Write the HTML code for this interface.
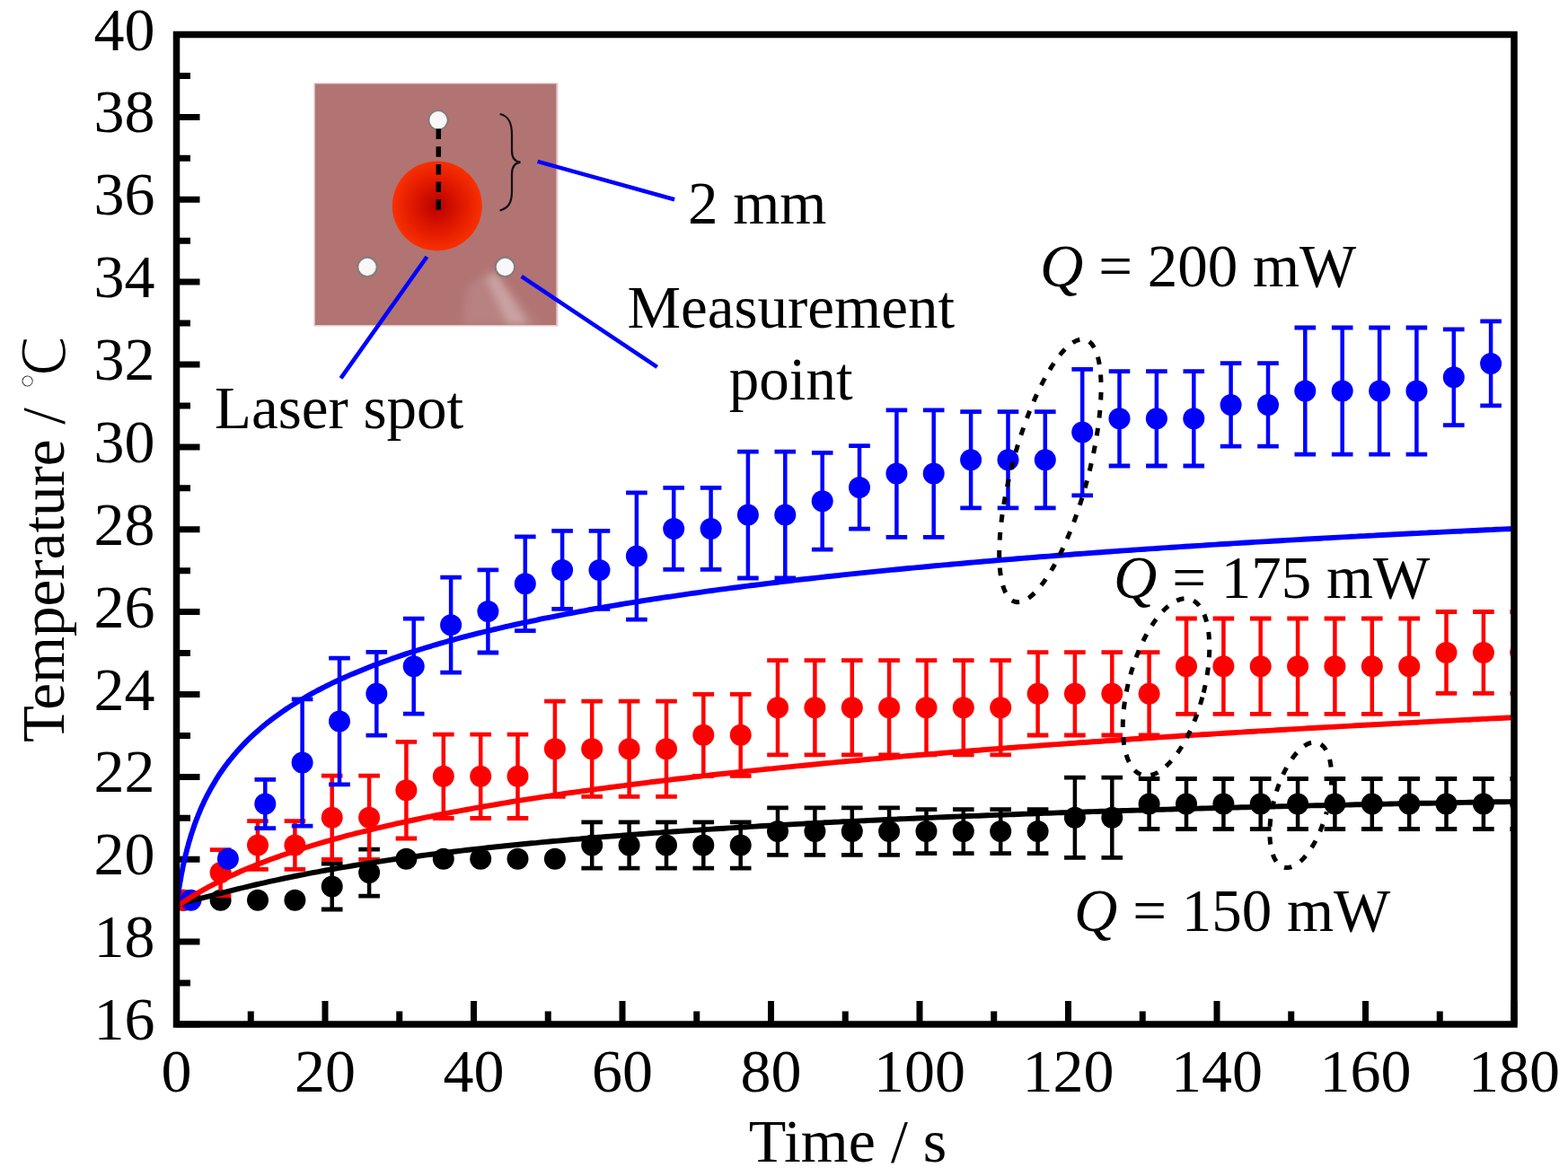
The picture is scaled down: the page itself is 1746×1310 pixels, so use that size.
<!DOCTYPE html><html><head><meta charset="utf-8"><style>html,body{margin:0;padding:0;background:#fff;overflow:hidden}svg{display:block}.t{font-family:"Liberation Serif","Times New Roman",serif;fill:#000}</style></head><body><svg width="1746" height="1310" viewBox="0 0 1746 1310"><defs><radialGradient id="spot" cx="0.5" cy="0.5" r="0.5"><stop offset="0" stop-color="#b80000"/><stop offset="0.55" stop-color="#e01800"/><stop offset="1" stop-color="#f83000"/></radialGradient><filter id="blur4" x="-20%" y="-20%" width="140%" height="140%"><feGaussianBlur stdDeviation="4"/></filter><clipPath id="ic"><rect x="350.6" y="93.3" width="269" height="268.7"/></clipPath><clipPath id="pc"><rect x="196.5" y="38.5" width="1489.5" height="1102.5"/></clipPath></defs><rect width="1746" height="1310" fill="#fff"/><path d="M196.5 1141.00h26M196.5 1095.06h15.5M196.5 1049.12h26M196.5 1003.19h15.5M196.5 957.25h26M196.5 911.31h15.5M196.5 865.38h26M196.5 819.44h15.5M196.5 773.50h26M196.5 727.56h15.5M196.5 681.62h26M196.5 635.69h15.5M196.5 589.75h26M196.5 543.81h15.5M196.5 497.88h26M196.5 451.94h15.5M196.5 406.00h26M196.5 360.06h15.5M196.5 314.12h26M196.5 268.19h15.5M196.5 222.25h26M196.5 176.31h15.5M196.5 130.38h26M196.5 84.44h15.5M196.5 38.50h26M196.50 1141v-26M279.25 1141v-14.5M362.00 1141v-26M444.75 1141v-14.5M527.50 1141v-26M610.25 1141v-14.5M693.00 1141v-26M775.75 1141v-14.5M858.50 1141v-26M941.25 1141v-14.5M1024.00 1141v-26M1106.75 1141v-14.5M1189.50 1141v-26M1272.25 1141v-14.5M1355.00 1141v-26M1437.75 1141v-14.5M1520.50 1141v-26M1603.25 1141v-14.5M1686.00 1141v-26" stroke="#000" stroke-width="7"/><g clip-path="url(#pc)"><circle cx="204.3" cy="1002.8" r="12" fill="#000"/><circle cx="245.6" cy="1002.8" r="12" fill="#000"/><circle cx="287.0" cy="1002.8" r="12" fill="#000"/><circle cx="328.4" cy="1002.8" r="12" fill="#000"/><path d="M369.7 962.0V1013.0" stroke="#000" stroke-width="4.5"/><path d="M357.9 962.0h23.6M357.9 1013.0h23.6" stroke="#000" stroke-width="4.8"/><circle cx="369.7" cy="987.5" r="12" fill="#000"/><path d="M411.1 946.1V998.1" stroke="#000" stroke-width="4.5"/><path d="M399.3 946.1h23.6M399.3 998.1h23.6" stroke="#000" stroke-width="4.8"/><circle cx="411.1" cy="972.1" r="12" fill="#000"/><circle cx="452.4" cy="956.8" r="12" fill="#000"/><circle cx="493.8" cy="956.8" r="12" fill="#000"/><circle cx="535.2" cy="956.8" r="12" fill="#000"/><circle cx="576.5" cy="956.8" r="12" fill="#000"/><circle cx="617.9" cy="956.8" r="12" fill="#000"/><path d="M659.2 915.8V967.2" stroke="#000" stroke-width="4.5"/><path d="M647.4 915.8h23.6M647.4 967.2h23.6" stroke="#000" stroke-width="4.8"/><circle cx="659.2" cy="941.5" r="12" fill="#000"/><path d="M700.6 915.8V967.2" stroke="#000" stroke-width="4.5"/><path d="M688.8 915.8h23.6M688.8 967.2h23.6" stroke="#000" stroke-width="4.8"/><circle cx="700.6" cy="941.5" r="12" fill="#000"/><path d="M742.0 915.8V967.2" stroke="#000" stroke-width="4.5"/><path d="M730.2 915.8h23.6M730.2 967.2h23.6" stroke="#000" stroke-width="4.8"/><circle cx="742.0" cy="941.5" r="12" fill="#000"/><path d="M783.3 915.8V967.2" stroke="#000" stroke-width="4.5"/><path d="M771.5 915.8h23.6M771.5 967.2h23.6" stroke="#000" stroke-width="4.8"/><circle cx="783.3" cy="941.5" r="12" fill="#000"/><path d="M824.7 915.8V967.2" stroke="#000" stroke-width="4.5"/><path d="M812.9 915.8h23.6M812.9 967.2h23.6" stroke="#000" stroke-width="4.8"/><circle cx="824.7" cy="941.5" r="12" fill="#000"/><path d="M866.0 899.9V952.4" stroke="#000" stroke-width="4.5"/><path d="M854.2 899.9h23.6M854.2 952.4h23.6" stroke="#000" stroke-width="4.8"/><circle cx="866.0" cy="926.1" r="12" fill="#000"/><path d="M907.4 899.9V952.4" stroke="#000" stroke-width="4.5"/><path d="M895.6 899.9h23.6M895.6 952.4h23.6" stroke="#000" stroke-width="4.8"/><circle cx="907.4" cy="926.1" r="12" fill="#000"/><path d="M948.8 899.9V952.4" stroke="#000" stroke-width="4.5"/><path d="M937.0 899.9h23.6M937.0 952.4h23.6" stroke="#000" stroke-width="4.8"/><circle cx="948.8" cy="926.1" r="12" fill="#000"/><path d="M990.1 899.9V952.4" stroke="#000" stroke-width="4.5"/><path d="M978.3 899.9h23.6M978.3 952.4h23.6" stroke="#000" stroke-width="4.8"/><circle cx="990.1" cy="926.1" r="12" fill="#000"/><path d="M1031.5 901.6V950.6" stroke="#000" stroke-width="4.5"/><path d="M1019.7 901.6h23.6M1019.7 950.6h23.6" stroke="#000" stroke-width="4.8"/><circle cx="1031.5" cy="926.1" r="12" fill="#000"/><path d="M1072.8 901.6V950.6" stroke="#000" stroke-width="4.5"/><path d="M1061.0 901.6h23.6M1061.0 950.6h23.6" stroke="#000" stroke-width="4.8"/><circle cx="1072.8" cy="926.1" r="12" fill="#000"/><path d="M1114.2 901.6V950.6" stroke="#000" stroke-width="4.5"/><path d="M1102.4 901.6h23.6M1102.4 950.6h23.6" stroke="#000" stroke-width="4.8"/><circle cx="1114.2" cy="926.1" r="12" fill="#000"/><path d="M1155.6 901.6V950.6" stroke="#000" stroke-width="4.5"/><path d="M1143.8 901.6h23.6M1143.8 950.6h23.6" stroke="#000" stroke-width="4.8"/><circle cx="1155.6" cy="926.1" r="12" fill="#000"/><path d="M1196.9 866.2V955.4" stroke="#000" stroke-width="4.5"/><path d="M1185.1 866.2h23.6M1185.1 955.4h23.6" stroke="#000" stroke-width="4.8"/><circle cx="1196.9" cy="910.8" r="12" fill="#000"/><path d="M1238.3 866.2V955.4" stroke="#000" stroke-width="4.5"/><path d="M1226.5 866.2h23.6M1226.5 955.4h23.6" stroke="#000" stroke-width="4.8"/><circle cx="1238.3" cy="910.8" r="12" fill="#000"/><path d="M1279.6 867.5V923.5" stroke="#000" stroke-width="4.5"/><path d="M1267.8 867.5h23.6M1267.8 923.5h23.6" stroke="#000" stroke-width="4.8"/><circle cx="1279.6" cy="895.5" r="12" fill="#000"/><path d="M1321.0 867.5V923.5" stroke="#000" stroke-width="4.5"/><path d="M1309.2 867.5h23.6M1309.2 923.5h23.6" stroke="#000" stroke-width="4.8"/><circle cx="1321.0" cy="895.5" r="12" fill="#000"/><path d="M1362.4 867.5V923.5" stroke="#000" stroke-width="4.5"/><path d="M1350.6 867.5h23.6M1350.6 923.5h23.6" stroke="#000" stroke-width="4.8"/><circle cx="1362.4" cy="895.5" r="12" fill="#000"/><path d="M1403.7 867.5V923.5" stroke="#000" stroke-width="4.5"/><path d="M1391.9 867.5h23.6M1391.9 923.5h23.6" stroke="#000" stroke-width="4.8"/><circle cx="1403.7" cy="895.5" r="12" fill="#000"/><path d="M1445.1 867.5V923.5" stroke="#000" stroke-width="4.5"/><path d="M1433.3 867.5h23.6M1433.3 923.5h23.6" stroke="#000" stroke-width="4.8"/><circle cx="1445.1" cy="895.5" r="12" fill="#000"/><path d="M1486.4 867.5V923.5" stroke="#000" stroke-width="4.5"/><path d="M1474.6 867.5h23.6M1474.6 923.5h23.6" stroke="#000" stroke-width="4.8"/><circle cx="1486.4" cy="895.5" r="12" fill="#000"/><path d="M1527.8 867.5V923.5" stroke="#000" stroke-width="4.5"/><path d="M1516.0 867.5h23.6M1516.0 923.5h23.6" stroke="#000" stroke-width="4.8"/><circle cx="1527.8" cy="895.5" r="12" fill="#000"/><path d="M1569.2 867.5V923.5" stroke="#000" stroke-width="4.5"/><path d="M1557.4 867.5h23.6M1557.4 923.5h23.6" stroke="#000" stroke-width="4.8"/><circle cx="1569.2" cy="895.5" r="12" fill="#000"/><path d="M1610.5 867.5V923.5" stroke="#000" stroke-width="4.5"/><path d="M1598.7 867.5h23.6M1598.7 923.5h23.6" stroke="#000" stroke-width="4.8"/><circle cx="1610.5" cy="895.5" r="12" fill="#000"/><path d="M1651.9 867.5V923.5" stroke="#000" stroke-width="4.5"/><path d="M1640.1 867.5h23.6M1640.1 923.5h23.6" stroke="#000" stroke-width="4.8"/><circle cx="1651.9" cy="895.5" r="12" fill="#000"/><path d="M1693.2 867.5V923.5" stroke="#000" stroke-width="4.5"/><path d="M1681.4 867.5h23.6M1681.4 923.5h23.6" stroke="#000" stroke-width="4.8"/><circle cx="1693.2" cy="895.5" r="12" fill="#000"/><circle cx="204.3" cy="1002.8" r="12" fill="#f00"/><path d="M245.6 946.6V997.6" stroke="#f00" stroke-width="4.5"/><path d="M233.8 946.6h23.6M233.8 997.6h23.6" stroke="#f00" stroke-width="4.8"/><circle cx="245.6" cy="972.1" r="12" fill="#f00"/><path d="M287.0 914.6V968.4" stroke="#f00" stroke-width="4.5"/><path d="M275.2 914.6h23.6M275.2 968.4h23.6" stroke="#f00" stroke-width="4.8"/><circle cx="287.0" cy="941.5" r="12" fill="#f00"/><path d="M328.4 914.6V968.4" stroke="#f00" stroke-width="4.5"/><path d="M316.6 914.6h23.6M316.6 968.4h23.6" stroke="#f00" stroke-width="4.8"/><circle cx="328.4" cy="941.5" r="12" fill="#f00"/><path d="M369.7 864.2V957.4" stroke="#f00" stroke-width="4.5"/><path d="M357.9 864.2h23.6M357.9 957.4h23.6" stroke="#f00" stroke-width="4.8"/><circle cx="369.7" cy="910.8" r="12" fill="#f00"/><path d="M411.1 864.2V957.4" stroke="#f00" stroke-width="4.5"/><path d="M399.3 864.2h23.6M399.3 957.4h23.6" stroke="#f00" stroke-width="4.8"/><circle cx="411.1" cy="910.8" r="12" fill="#f00"/><path d="M452.4 826.4V934.0" stroke="#f00" stroke-width="4.5"/><path d="M440.6 826.4h23.6M440.6 934.0h23.6" stroke="#f00" stroke-width="4.8"/><circle cx="452.4" cy="880.2" r="12" fill="#f00"/><path d="M493.8 818.1V911.5" stroke="#f00" stroke-width="4.5"/><path d="M482.0 818.1h23.6M482.0 911.5h23.6" stroke="#f00" stroke-width="4.8"/><circle cx="493.8" cy="864.8" r="12" fill="#f00"/><path d="M535.2 818.1V911.5" stroke="#f00" stroke-width="4.5"/><path d="M523.4 818.1h23.6M523.4 911.5h23.6" stroke="#f00" stroke-width="4.8"/><circle cx="535.2" cy="864.8" r="12" fill="#f00"/><path d="M576.5 818.1V911.5" stroke="#f00" stroke-width="4.5"/><path d="M564.7 818.1h23.6M564.7 911.5h23.6" stroke="#f00" stroke-width="4.8"/><circle cx="576.5" cy="864.8" r="12" fill="#f00"/><path d="M617.9 781.1V887.3" stroke="#f00" stroke-width="4.5"/><path d="M606.1 781.1h23.6M606.1 887.3h23.6" stroke="#f00" stroke-width="4.8"/><circle cx="617.9" cy="834.2" r="12" fill="#f00"/><path d="M659.2 781.1V887.3" stroke="#f00" stroke-width="4.5"/><path d="M647.4 781.1h23.6M647.4 887.3h23.6" stroke="#f00" stroke-width="4.8"/><circle cx="659.2" cy="834.2" r="12" fill="#f00"/><path d="M700.6 781.1V887.3" stroke="#f00" stroke-width="4.5"/><path d="M688.8 781.1h23.6M688.8 887.3h23.6" stroke="#f00" stroke-width="4.8"/><circle cx="700.6" cy="834.2" r="12" fill="#f00"/><path d="M742.0 781.1V887.3" stroke="#f00" stroke-width="4.5"/><path d="M730.2 781.1h23.6M730.2 887.3h23.6" stroke="#f00" stroke-width="4.8"/><circle cx="742.0" cy="834.2" r="12" fill="#f00"/><path d="M783.3 773.3V864.3" stroke="#f00" stroke-width="4.5"/><path d="M771.5 773.3h23.6M771.5 864.3h23.6" stroke="#f00" stroke-width="4.8"/><circle cx="783.3" cy="818.8" r="12" fill="#f00"/><path d="M824.7 773.3V864.3" stroke="#f00" stroke-width="4.5"/><path d="M812.9 773.3h23.6M812.9 864.3h23.6" stroke="#f00" stroke-width="4.8"/><circle cx="824.7" cy="818.8" r="12" fill="#f00"/><path d="M866.0 735.6V840.8" stroke="#f00" stroke-width="4.5"/><path d="M854.2 735.6h23.6M854.2 840.8h23.6" stroke="#f00" stroke-width="4.8"/><circle cx="866.0" cy="788.2" r="12" fill="#f00"/><path d="M907.4 735.6V840.8" stroke="#f00" stroke-width="4.5"/><path d="M895.6 735.6h23.6M895.6 840.8h23.6" stroke="#f00" stroke-width="4.8"/><circle cx="907.4" cy="788.2" r="12" fill="#f00"/><path d="M948.8 735.6V840.8" stroke="#f00" stroke-width="4.5"/><path d="M937.0 735.6h23.6M937.0 840.8h23.6" stroke="#f00" stroke-width="4.8"/><circle cx="948.8" cy="788.2" r="12" fill="#f00"/><path d="M990.1 735.6V840.8" stroke="#f00" stroke-width="4.5"/><path d="M978.3 735.6h23.6M978.3 840.8h23.6" stroke="#f00" stroke-width="4.8"/><circle cx="990.1" cy="788.2" r="12" fill="#f00"/><path d="M1031.5 735.6V840.8" stroke="#f00" stroke-width="4.5"/><path d="M1019.7 735.6h23.6M1019.7 840.8h23.6" stroke="#f00" stroke-width="4.8"/><circle cx="1031.5" cy="788.2" r="12" fill="#f00"/><path d="M1072.8 735.6V840.8" stroke="#f00" stroke-width="4.5"/><path d="M1061.0 735.6h23.6M1061.0 840.8h23.6" stroke="#f00" stroke-width="4.8"/><circle cx="1072.8" cy="788.2" r="12" fill="#f00"/><path d="M1114.2 735.6V840.8" stroke="#f00" stroke-width="4.5"/><path d="M1102.4 735.6h23.6M1102.4 840.8h23.6" stroke="#f00" stroke-width="4.8"/><circle cx="1114.2" cy="788.2" r="12" fill="#f00"/><path d="M1155.6 726.6V819.0" stroke="#f00" stroke-width="4.5"/><path d="M1143.8 726.6h23.6M1143.8 819.0h23.6" stroke="#f00" stroke-width="4.8"/><circle cx="1155.6" cy="772.8" r="12" fill="#f00"/><path d="M1196.9 726.6V819.0" stroke="#f00" stroke-width="4.5"/><path d="M1185.1 726.6h23.6M1185.1 819.0h23.6" stroke="#f00" stroke-width="4.8"/><circle cx="1196.9" cy="772.8" r="12" fill="#f00"/><path d="M1238.3 726.6V819.0" stroke="#f00" stroke-width="4.5"/><path d="M1226.5 726.6h23.6M1226.5 819.0h23.6" stroke="#f00" stroke-width="4.8"/><circle cx="1238.3" cy="772.8" r="12" fill="#f00"/><path d="M1279.6 726.6V819.0" stroke="#f00" stroke-width="4.5"/><path d="M1267.8 726.6h23.6M1267.8 819.0h23.6" stroke="#f00" stroke-width="4.8"/><circle cx="1279.6" cy="772.8" r="12" fill="#f00"/><path d="M1321.0 689.0V795.4" stroke="#f00" stroke-width="4.5"/><path d="M1309.2 689.0h23.6M1309.2 795.4h23.6" stroke="#f00" stroke-width="4.8"/><circle cx="1321.0" cy="742.2" r="12" fill="#f00"/><path d="M1362.4 689.0V795.4" stroke="#f00" stroke-width="4.5"/><path d="M1350.6 689.0h23.6M1350.6 795.4h23.6" stroke="#f00" stroke-width="4.8"/><circle cx="1362.4" cy="742.2" r="12" fill="#f00"/><path d="M1403.7 689.0V795.4" stroke="#f00" stroke-width="4.5"/><path d="M1391.9 689.0h23.6M1391.9 795.4h23.6" stroke="#f00" stroke-width="4.8"/><circle cx="1403.7" cy="742.2" r="12" fill="#f00"/><path d="M1445.1 689.0V795.4" stroke="#f00" stroke-width="4.5"/><path d="M1433.3 689.0h23.6M1433.3 795.4h23.6" stroke="#f00" stroke-width="4.8"/><circle cx="1445.1" cy="742.2" r="12" fill="#f00"/><path d="M1486.4 689.0V795.4" stroke="#f00" stroke-width="4.5"/><path d="M1474.6 689.0h23.6M1474.6 795.4h23.6" stroke="#f00" stroke-width="4.8"/><circle cx="1486.4" cy="742.2" r="12" fill="#f00"/><path d="M1527.8 689.0V795.4" stroke="#f00" stroke-width="4.5"/><path d="M1516.0 689.0h23.6M1516.0 795.4h23.6" stroke="#f00" stroke-width="4.8"/><circle cx="1527.8" cy="742.2" r="12" fill="#f00"/><path d="M1569.2 689.0V795.4" stroke="#f00" stroke-width="4.5"/><path d="M1557.4 689.0h23.6M1557.4 795.4h23.6" stroke="#f00" stroke-width="4.8"/><circle cx="1569.2" cy="742.2" r="12" fill="#f00"/><path d="M1610.5 681.5V772.3" stroke="#f00" stroke-width="4.5"/><path d="M1598.7 681.5h23.6M1598.7 772.3h23.6" stroke="#f00" stroke-width="4.8"/><circle cx="1610.5" cy="726.9" r="12" fill="#f00"/><path d="M1651.9 681.5V772.3" stroke="#f00" stroke-width="4.5"/><path d="M1640.1 681.5h23.6M1640.1 772.3h23.6" stroke="#f00" stroke-width="4.8"/><circle cx="1651.9" cy="726.9" r="12" fill="#f00"/><path d="M1693.2 681.5V772.3" stroke="#f00" stroke-width="4.5"/><path d="M1681.4 681.5h23.6M1681.4 772.3h23.6" stroke="#f00" stroke-width="4.8"/><circle cx="1693.2" cy="726.9" r="12" fill="#f00"/><circle cx="212.5" cy="1002.8" r="12" fill="#00f"/><circle cx="253.9" cy="956.8" r="12" fill="#00f"/><path d="M295.3 868.3V922.7" stroke="#00f" stroke-width="4.5"/><path d="M283.5 868.3h23.6M283.5 922.7h23.6" stroke="#00f" stroke-width="4.8"/><circle cx="295.3" cy="895.5" r="12" fill="#00f"/><path d="M336.6 778.8V920.2" stroke="#00f" stroke-width="4.5"/><path d="M324.8 778.8h23.6M324.8 920.2h23.6" stroke="#00f" stroke-width="4.8"/><circle cx="336.6" cy="849.5" r="12" fill="#00f"/><path d="M378.0 733.1V873.9" stroke="#00f" stroke-width="4.5"/><path d="M366.2 733.1h23.6M366.2 873.9h23.6" stroke="#00f" stroke-width="4.8"/><circle cx="378.0" cy="803.5" r="12" fill="#00f"/><path d="M419.3 726.4V819.2" stroke="#00f" stroke-width="4.5"/><path d="M407.5 726.4h23.6M407.5 819.2h23.6" stroke="#00f" stroke-width="4.8"/><circle cx="419.3" cy="772.8" r="12" fill="#00f"/><path d="M460.7 689.2V795.2" stroke="#00f" stroke-width="4.5"/><path d="M448.9 689.2h23.6M448.9 795.2h23.6" stroke="#00f" stroke-width="4.8"/><circle cx="460.7" cy="742.2" r="12" fill="#00f"/><path d="M502.1 643.2V749.2" stroke="#00f" stroke-width="4.5"/><path d="M490.3 643.2h23.6M490.3 749.2h23.6" stroke="#00f" stroke-width="4.8"/><circle cx="502.1" cy="696.2" r="12" fill="#00f"/><path d="M543.4 634.8V727.0" stroke="#00f" stroke-width="4.5"/><path d="M531.6 634.8h23.6M531.6 727.0h23.6" stroke="#00f" stroke-width="4.8"/><circle cx="543.4" cy="680.9" r="12" fill="#00f"/><path d="M584.8 597.8V702.6" stroke="#00f" stroke-width="4.5"/><path d="M573.0 597.8h23.6M573.0 702.6h23.6" stroke="#00f" stroke-width="4.8"/><circle cx="584.8" cy="650.2" r="12" fill="#00f"/><path d="M626.1 591.4V678.4" stroke="#00f" stroke-width="4.5"/><path d="M614.3 591.4h23.6M614.3 678.4h23.6" stroke="#00f" stroke-width="4.8"/><circle cx="626.1" cy="634.9" r="12" fill="#00f"/><path d="M667.5 591.4V678.4" stroke="#00f" stroke-width="4.5"/><path d="M655.7 591.4h23.6M655.7 678.4h23.6" stroke="#00f" stroke-width="4.8"/><circle cx="667.5" cy="634.9" r="12" fill="#00f"/><path d="M708.9 548.9V690.1" stroke="#00f" stroke-width="4.5"/><path d="M697.1 548.9h23.6M697.1 690.1h23.6" stroke="#00f" stroke-width="4.8"/><circle cx="708.9" cy="619.5" r="12" fill="#00f"/><path d="M750.2 543.4V634.4" stroke="#00f" stroke-width="4.5"/><path d="M738.4 543.4h23.6M738.4 634.4h23.6" stroke="#00f" stroke-width="4.8"/><circle cx="750.2" cy="588.9" r="12" fill="#00f"/><path d="M791.6 543.4V634.4" stroke="#00f" stroke-width="4.5"/><path d="M779.8 543.4h23.6M779.8 634.4h23.6" stroke="#00f" stroke-width="4.8"/><circle cx="791.6" cy="588.9" r="12" fill="#00f"/><path d="M832.9 503.2V644.0" stroke="#00f" stroke-width="4.5"/><path d="M821.1 503.2h23.6M821.1 644.0h23.6" stroke="#00f" stroke-width="4.8"/><circle cx="832.9" cy="573.6" r="12" fill="#00f"/><path d="M874.3 503.2V644.0" stroke="#00f" stroke-width="4.5"/><path d="M862.5 503.2h23.6M862.5 644.0h23.6" stroke="#00f" stroke-width="4.8"/><circle cx="874.3" cy="573.6" r="12" fill="#00f"/><path d="M915.7 504.3V612.1" stroke="#00f" stroke-width="4.5"/><path d="M903.9 504.3h23.6M903.9 612.1h23.6" stroke="#00f" stroke-width="4.8"/><circle cx="915.7" cy="558.2" r="12" fill="#00f"/><path d="M957.0 496.6V589.2" stroke="#00f" stroke-width="4.5"/><path d="M945.2 496.6h23.6M945.2 589.2h23.6" stroke="#00f" stroke-width="4.8"/><circle cx="957.0" cy="542.9" r="12" fill="#00f"/><path d="M998.4 456.8V598.4" stroke="#00f" stroke-width="4.5"/><path d="M986.6 456.8h23.6M986.6 598.4h23.6" stroke="#00f" stroke-width="4.8"/><circle cx="998.4" cy="527.6" r="12" fill="#00f"/><path d="M1039.7 456.8V598.4" stroke="#00f" stroke-width="4.5"/><path d="M1027.9 456.8h23.6M1027.9 598.4h23.6" stroke="#00f" stroke-width="4.8"/><circle cx="1039.7" cy="527.6" r="12" fill="#00f"/><path d="M1081.1 458.6V565.8" stroke="#00f" stroke-width="4.5"/><path d="M1069.3 458.6h23.6M1069.3 565.8h23.6" stroke="#00f" stroke-width="4.8"/><circle cx="1081.1" cy="512.2" r="12" fill="#00f"/><path d="M1122.5 458.6V565.8" stroke="#00f" stroke-width="4.5"/><path d="M1110.7 458.6h23.6M1110.7 565.8h23.6" stroke="#00f" stroke-width="4.8"/><circle cx="1122.5" cy="512.2" r="12" fill="#00f"/><path d="M1163.8 458.6V565.8" stroke="#00f" stroke-width="4.5"/><path d="M1152.0 458.6h23.6M1152.0 565.8h23.6" stroke="#00f" stroke-width="4.8"/><circle cx="1163.8" cy="512.2" r="12" fill="#00f"/><path d="M1205.2 411.3V551.9" stroke="#00f" stroke-width="4.5"/><path d="M1193.4 411.3h23.6M1193.4 551.9h23.6" stroke="#00f" stroke-width="4.8"/><circle cx="1205.2" cy="481.6" r="12" fill="#00f"/><path d="M1246.5 413.6V519.0" stroke="#00f" stroke-width="4.5"/><path d="M1234.7 413.6h23.6M1234.7 519.0h23.6" stroke="#00f" stroke-width="4.8"/><circle cx="1246.5" cy="466.2" r="12" fill="#00f"/><path d="M1287.9 413.6V519.0" stroke="#00f" stroke-width="4.5"/><path d="M1276.1 413.6h23.6M1276.1 519.0h23.6" stroke="#00f" stroke-width="4.8"/><circle cx="1287.9" cy="466.2" r="12" fill="#00f"/><path d="M1329.3 413.6V519.0" stroke="#00f" stroke-width="4.5"/><path d="M1317.5 413.6h23.6M1317.5 519.0h23.6" stroke="#00f" stroke-width="4.8"/><circle cx="1329.3" cy="466.2" r="12" fill="#00f"/><path d="M1370.6 404.7V497.1" stroke="#00f" stroke-width="4.5"/><path d="M1358.8 404.7h23.6M1358.8 497.1h23.6" stroke="#00f" stroke-width="4.8"/><circle cx="1370.6" cy="450.9" r="12" fill="#00f"/><path d="M1412.0 404.7V497.1" stroke="#00f" stroke-width="4.5"/><path d="M1400.2 404.7h23.6M1400.2 497.1h23.6" stroke="#00f" stroke-width="4.8"/><circle cx="1412.0" cy="450.9" r="12" fill="#00f"/><path d="M1453.3 365.0V506.2" stroke="#00f" stroke-width="4.5"/><path d="M1441.5 365.0h23.6M1441.5 506.2h23.6" stroke="#00f" stroke-width="4.8"/><circle cx="1453.3" cy="435.6" r="12" fill="#00f"/><path d="M1494.7 365.0V506.2" stroke="#00f" stroke-width="4.5"/><path d="M1482.9 365.0h23.6M1482.9 506.2h23.6" stroke="#00f" stroke-width="4.8"/><circle cx="1494.7" cy="435.6" r="12" fill="#00f"/><path d="M1536.1 365.0V506.2" stroke="#00f" stroke-width="4.5"/><path d="M1524.3 365.0h23.6M1524.3 506.2h23.6" stroke="#00f" stroke-width="4.8"/><circle cx="1536.1" cy="435.6" r="12" fill="#00f"/><path d="M1577.4 365.0V506.2" stroke="#00f" stroke-width="4.5"/><path d="M1565.6 365.0h23.6M1565.6 506.2h23.6" stroke="#00f" stroke-width="4.8"/><circle cx="1577.4" cy="435.6" r="12" fill="#00f"/><path d="M1618.8 366.9V473.7" stroke="#00f" stroke-width="4.5"/><path d="M1607.0 366.9h23.6M1607.0 473.7h23.6" stroke="#00f" stroke-width="4.8"/><circle cx="1618.8" cy="420.3" r="12" fill="#00f"/><path d="M1660.1 357.9V451.9" stroke="#00f" stroke-width="4.5"/><path d="M1648.3 357.9h23.6M1648.3 451.9h23.6" stroke="#00f" stroke-width="4.8"/><circle cx="1660.1" cy="404.9" r="12" fill="#00f"/><path d="M1701.5 357.9V451.9" stroke="#00f" stroke-width="4.5"/><path d="M1689.7 357.9h23.6M1689.7 451.9h23.6" stroke="#00f" stroke-width="4.8"/><circle cx="1701.5" cy="404.9" r="12" fill="#00f"/><path d="M196.2 1006.8 L196.8 1006.8 L197.3 1006.7 L197.9 1006.6 L198.5 1006.5 L199.1 1006.4 L199.6 1006.3 L200.2 1006.2 L200.8 1006.1 L201.4 1006.0 L201.9 1005.9 L202.5 1005.8 L203.1 1005.6 L203.6 1005.5 L204.2 1005.4 L204.8 1005.3 L205.4 1005.2 L205.9 1005.0 L206.5 1004.9 L207.1 1004.8 L207.7 1004.6 L208.2 1004.5 L208.8 1004.4 L209.4 1004.2 L209.9 1004.1 L210.5 1004.0 L211.1 1003.8 L211.7 1003.7 L212.2 1003.6 L212.8 1003.4 L213.4 1003.3 L214.0 1003.1 L214.5 1003.0 L215.1 1002.9 L215.7 1002.7 L216.3 1002.6 L216.8 1002.4 L217.4 1002.3 L218.0 1002.1 L218.5 1002.0 L219.1 1001.9 L219.7 1001.7 L220.3 1001.6 L220.8 1001.4 L221.4 1001.3 L222.0 1001.1 L222.6 1001.0 L223.1 1000.8 L223.7 1000.7 L224.3 1000.5 L224.8 1000.4 L225.4 1000.3 L226.0 1000.1 L226.6 1000.0 L227.1 999.8 L227.7 999.7 L228.3 999.5 L228.9 999.4 L229.4 999.2 L230.0 999.1 L231.0 998.8 L235.9 997.6 L240.8 996.3 L245.6 995.1 L250.5 993.8 L255.4 992.6 L260.3 991.4 L265.2 990.2 L270.0 989.0 L274.9 987.8 L279.8 986.6 L284.7 985.5 L289.6 984.4 L294.4 983.3 L299.3 982.2 L304.2 981.1 L309.1 980.1 L314.0 979.0 L318.8 978.0 L323.7 977.0 L328.6 976.0 L333.5 975.0 L338.4 974.1 L343.2 973.1 L348.1 972.2 L353.0 971.3 L357.9 970.4 L362.7 969.5 L367.6 968.6 L372.5 967.8 L377.4 966.9 L382.3 966.1 L387.1 965.3 L392.0 964.5 L396.9 963.7 L401.8 962.9 L406.7 962.1 L411.5 961.4 L416.4 960.6 L421.3 959.9 L426.2 959.1 L431.1 958.4 L435.9 957.7 L440.8 957.0 L445.7 956.3 L450.6 955.7 L455.5 955.0 L460.3 954.3 L465.2 953.7 L470.1 953.0 L475.0 952.4 L479.9 951.8 L484.7 951.2 L489.6 950.5 L494.5 949.9 L499.4 949.4 L504.3 948.8 L509.1 948.2 L514.0 947.6 L518.9 947.0 L523.8 946.5 L528.7 945.9 L533.5 945.4 L538.4 944.9 L543.3 944.3 L548.2 943.8 L553.1 943.3 L557.9 942.8 L562.8 942.3 L567.7 941.8 L572.6 941.3 L577.5 940.8 L582.3 940.3 L587.2 939.8 L592.1 939.3 L597.0 938.9 L601.8 938.4 L606.7 937.9 L611.6 937.5 L616.5 937.0 L621.4 936.6 L626.2 936.2 L631.1 935.7 L636.0 935.3 L640.9 934.9 L645.8 934.5 L650.6 934.0 L655.5 933.6 L660.4 933.2 L665.3 932.8 L670.2 932.4 L675.0 932.0 L679.9 931.6 L684.8 931.2 L689.7 930.9 L694.6 930.5 L699.4 930.1 L704.3 929.7 L709.2 929.4 L714.1 929.0 L719.0 928.6 L723.8 928.3 L728.7 927.9 L733.6 927.6 L738.5 927.2 L743.4 926.9 L748.2 926.5 L753.1 926.2 L758.0 925.9 L762.9 925.5 L767.8 925.2 L772.6 924.9 L777.5 924.6 L782.4 924.2 L787.3 923.9 L792.2 923.6 L797.0 923.3 L801.9 923.0 L806.8 922.7 L811.7 922.4 L816.6 922.1 L821.4 921.8 L826.3 921.5 L831.2 921.2 L836.1 920.9 L840.9 920.6 L845.8 920.3 L850.7 920.0 L855.6 919.8 L860.5 919.5 L865.3 919.2 L870.2 918.9 L875.1 918.7 L880.0 918.4 L884.9 918.1 L889.7 917.9 L894.6 917.6 L899.5 917.3 L904.4 917.1 L909.3 916.8 L914.1 916.6 L919.0 916.3 L923.9 916.1 L928.8 915.8 L933.7 915.6 L938.5 915.3 L943.4 915.1 L948.3 914.9 L953.2 914.6 L958.1 914.4 L962.9 914.2 L967.8 913.9 L972.7 913.7 L977.6 913.5 L982.5 913.2 L987.3 913.0 L992.2 912.8 L997.1 912.6 L1002.0 912.3 L1006.9 912.1 L1011.7 911.9 L1016.6 911.7 L1021.5 911.5 L1026.4 911.3 L1031.3 911.1 L1036.1 910.9 L1041.0 910.6 L1045.9 910.4 L1050.8 910.2 L1055.7 910.0 L1060.5 909.8 L1065.4 909.6 L1070.3 909.4 L1075.2 909.2 L1080.1 909.0 L1084.9 908.9 L1089.8 908.7 L1094.7 908.5 L1099.6 908.3 L1104.4 908.1 L1109.3 907.9 L1114.2 907.7 L1119.1 907.5 L1124.0 907.4 L1128.8 907.2 L1133.7 907.0 L1138.6 906.8 L1143.5 906.6 L1148.4 906.5 L1153.2 906.3 L1158.1 906.1 L1163.0 905.9 L1167.9 905.8 L1172.8 905.6 L1177.6 905.4 L1182.5 905.3 L1187.4 905.1 L1192.3 904.9 L1197.2 904.8 L1202.0 904.6 L1206.9 904.5 L1211.8 904.3 L1216.7 904.1 L1221.6 904.0 L1226.4 903.8 L1231.3 903.7 L1236.2 903.5 L1241.1 903.4 L1246.0 903.2 L1250.8 903.0 L1255.7 902.9 L1260.6 902.8 L1265.5 902.6 L1270.4 902.5 L1275.2 902.3 L1280.1 902.2 L1285.0 902.0 L1289.9 901.9 L1294.8 901.7 L1299.6 901.6 L1304.5 901.5 L1309.4 901.3 L1314.3 901.2 L1319.2 901.0 L1324.0 900.9 L1328.9 900.8 L1333.8 900.6 L1338.7 900.5 L1343.5 900.4 L1348.4 900.2 L1353.3 900.1 L1358.2 900.0 L1363.1 899.8 L1367.9 899.7 L1372.8 899.6 L1377.7 899.5 L1382.6 899.3 L1387.5 899.2 L1392.3 899.1 L1397.2 899.0 L1402.1 898.8 L1407.0 898.7 L1411.9 898.6 L1416.7 898.5 L1421.6 898.4 L1426.5 898.2 L1431.4 898.1 L1436.3 898.0 L1441.1 897.9 L1446.0 897.8 L1450.9 897.7 L1455.8 897.5 L1460.7 897.4 L1465.5 897.3 L1470.4 897.2 L1475.3 897.1 L1480.2 897.0 L1485.1 896.9 L1489.9 896.8 L1494.8 896.7 L1499.7 896.6 L1504.6 896.5 L1509.5 896.3 L1514.3 896.2 L1519.2 896.1 L1524.1 896.0 L1529.0 895.9 L1533.9 895.8 L1538.7 895.7 L1543.6 895.6 L1548.5 895.5 L1553.4 895.4 L1558.3 895.3 L1563.1 895.2 L1568.0 895.1 L1572.9 895.0 L1577.8 894.9 L1582.6 894.8 L1587.5 894.8 L1592.4 894.7 L1597.3 894.6 L1602.2 894.5 L1607.0 894.4 L1611.9 894.3 L1616.8 894.2 L1621.7 894.1 L1626.6 894.0 L1631.4 893.9 L1636.3 893.8 L1641.2 893.8 L1646.1 893.7 L1651.0 893.6 L1655.8 893.5 L1660.7 893.4 L1665.6 893.3 L1670.5 893.2 L1675.4 893.2 L1680.2 893.1 L1685.1 893.0 L1690.0 892.9" stroke="#000" stroke-width="5.9" fill="none" stroke-linejoin="round"/><path d="M196.2 1010.3 L196.8 1009.9 L197.3 1009.5 L197.9 1009.1 L198.5 1008.7 L199.1 1008.3 L199.6 1007.9 L200.2 1007.5 L200.8 1007.1 L201.4 1006.7 L201.9 1006.4 L202.5 1006.0 L203.1 1005.6 L203.6 1005.2 L204.2 1004.8 L204.8 1004.5 L205.4 1004.1 L205.9 1003.7 L206.5 1003.3 L207.1 1003.0 L207.7 1002.6 L208.2 1002.2 L208.8 1001.8 L209.4 1001.5 L209.9 1001.1 L210.5 1000.8 L211.1 1000.4 L211.7 1000.0 L212.2 999.7 L212.8 999.3 L213.4 999.0 L214.0 998.6 L214.5 998.3 L215.1 997.9 L215.7 997.6 L216.3 997.2 L216.8 996.9 L217.4 996.5 L218.0 996.2 L218.5 995.8 L219.1 995.5 L219.7 995.2 L220.3 994.8 L220.8 994.5 L221.4 994.2 L222.0 993.8 L222.6 993.5 L223.1 993.2 L223.7 992.8 L224.3 992.5 L224.8 992.2 L225.4 991.8 L226.0 991.5 L226.6 991.2 L227.1 990.9 L227.7 990.6 L228.3 990.2 L228.9 989.9 L229.4 989.6 L230.0 989.3 L231.0 988.7 L235.9 986.1 L240.8 983.6 L245.6 981.1 L250.5 978.7 L255.4 976.4 L260.3 974.2 L265.2 972.0 L270.0 969.8 L274.9 967.8 L279.8 965.7 L284.7 963.8 L289.6 961.8 L294.4 960.0 L299.3 958.1 L304.2 956.3 L309.1 954.6 L314.0 952.8 L318.8 951.2 L323.7 949.5 L328.6 947.9 L333.5 946.3 L338.4 944.8 L343.2 943.3 L348.1 941.8 L353.0 940.3 L357.9 938.9 L362.7 937.4 L367.6 936.1 L372.5 934.7 L377.4 933.4 L382.3 932.0 L387.1 930.7 L392.0 929.5 L396.9 928.2 L401.8 927.0 L406.7 925.8 L411.5 924.6 L416.4 923.4 L421.3 922.2 L426.2 921.1 L431.1 919.9 L435.9 918.8 L440.8 917.7 L445.7 916.6 L450.6 915.6 L455.5 914.5 L460.3 913.5 L465.2 912.5 L470.1 911.4 L475.0 910.4 L479.9 909.5 L484.7 908.5 L489.6 907.5 L494.5 906.6 L499.4 905.6 L504.3 904.7 L509.1 903.8 L514.0 902.9 L518.9 902.0 L523.8 901.1 L528.7 900.2 L533.5 899.3 L538.4 898.5 L543.3 897.6 L548.2 896.8 L553.1 896.0 L557.9 895.1 L562.8 894.3 L567.7 893.5 L572.6 892.7 L577.5 891.9 L582.3 891.2 L587.2 890.4 L592.1 889.6 L597.0 888.9 L601.8 888.1 L606.7 887.4 L611.6 886.6 L616.5 885.9 L621.4 885.2 L626.2 884.5 L631.1 883.7 L636.0 883.0 L640.9 882.3 L645.8 881.7 L650.6 881.0 L655.5 880.3 L660.4 879.6 L665.3 878.9 L670.2 878.3 L675.0 877.6 L679.9 877.0 L684.8 876.3 L689.7 875.7 L694.6 875.1 L699.4 874.4 L704.3 873.8 L709.2 873.2 L714.1 872.6 L719.0 872.0 L723.8 871.3 L728.7 870.7 L733.6 870.2 L738.5 869.6 L743.4 869.0 L748.2 868.4 L753.1 867.8 L758.0 867.2 L762.9 866.7 L767.8 866.1 L772.6 865.5 L777.5 865.0 L782.4 864.4 L787.3 863.9 L792.2 863.3 L797.0 862.8 L801.9 862.2 L806.8 861.7 L811.7 861.2 L816.6 860.6 L821.4 860.1 L826.3 859.6 L831.2 859.1 L836.1 858.6 L840.9 858.1 L845.8 857.6 L850.7 857.1 L855.6 856.5 L860.5 856.1 L865.3 855.6 L870.2 855.1 L875.1 854.6 L880.0 854.1 L884.9 853.6 L889.7 853.1 L894.6 852.7 L899.5 852.2 L904.4 851.7 L909.3 851.2 L914.1 850.8 L919.0 850.3 L923.9 849.9 L928.8 849.4 L933.7 848.9 L938.5 848.5 L943.4 848.0 L948.3 847.6 L953.2 847.2 L958.1 846.7 L962.9 846.3 L967.8 845.8 L972.7 845.4 L977.6 845.0 L982.5 844.5 L987.3 844.1 L992.2 843.7 L997.1 843.3 L1002.0 842.9 L1006.9 842.4 L1011.7 842.0 L1016.6 841.6 L1021.5 841.2 L1026.4 840.8 L1031.3 840.4 L1036.1 840.0 L1041.0 839.6 L1045.9 839.2 L1050.8 838.8 L1055.7 838.4 L1060.5 838.0 L1065.4 837.6 L1070.3 837.2 L1075.2 836.8 L1080.1 836.4 L1084.9 836.0 L1089.8 835.7 L1094.7 835.3 L1099.6 834.9 L1104.4 834.5 L1109.3 834.2 L1114.2 833.8 L1119.1 833.4 L1124.0 833.0 L1128.8 832.7 L1133.7 832.3 L1138.6 831.9 L1143.5 831.6 L1148.4 831.2 L1153.2 830.9 L1158.1 830.5 L1163.0 830.1 L1167.9 829.8 L1172.8 829.4 L1177.6 829.1 L1182.5 828.7 L1187.4 828.4 L1192.3 828.0 L1197.2 827.7 L1202.0 827.3 L1206.9 827.0 L1211.8 826.7 L1216.7 826.3 L1221.6 826.0 L1226.4 825.7 L1231.3 825.3 L1236.2 825.0 L1241.1 824.7 L1246.0 824.3 L1250.8 824.0 L1255.7 823.7 L1260.6 823.3 L1265.5 823.0 L1270.4 822.7 L1275.2 822.4 L1280.1 822.1 L1285.0 821.7 L1289.9 821.4 L1294.8 821.1 L1299.6 820.8 L1304.5 820.5 L1309.4 820.2 L1314.3 819.8 L1319.2 819.5 L1324.0 819.2 L1328.9 818.9 L1333.8 818.6 L1338.7 818.3 L1343.5 818.0 L1348.4 817.7 L1353.3 817.4 L1358.2 817.1 L1363.1 816.8 L1367.9 816.5 L1372.8 816.2 L1377.7 815.9 L1382.6 815.6 L1387.5 815.3 L1392.3 815.0 L1397.2 814.7 L1402.1 814.4 L1407.0 814.2 L1411.9 813.9 L1416.7 813.6 L1421.6 813.3 L1426.5 813.0 L1431.4 812.7 L1436.3 812.4 L1441.1 812.2 L1446.0 811.9 L1450.9 811.6 L1455.8 811.3 L1460.7 811.0 L1465.5 810.8 L1470.4 810.5 L1475.3 810.2 L1480.2 809.9 L1485.1 809.7 L1489.9 809.4 L1494.8 809.1 L1499.7 808.9 L1504.6 808.6 L1509.5 808.3 L1514.3 808.0 L1519.2 807.8 L1524.1 807.5 L1529.0 807.3 L1533.9 807.0 L1538.7 806.7 L1543.6 806.5 L1548.5 806.2 L1553.4 805.9 L1558.3 805.7 L1563.1 805.4 L1568.0 805.2 L1572.9 804.9 L1577.8 804.7 L1582.6 804.4 L1587.5 804.1 L1592.4 803.9 L1597.3 803.6 L1602.2 803.4 L1607.0 803.1 L1611.9 802.9 L1616.8 802.6 L1621.7 802.4 L1626.6 802.1 L1631.4 801.9 L1636.3 801.7 L1641.2 801.4 L1646.1 801.2 L1651.0 800.9 L1655.8 800.7 L1660.7 800.4 L1665.6 800.2 L1670.5 800.0 L1675.4 799.7 L1680.2 799.5 L1685.1 799.2 L1690.0 799.0" stroke="#f00" stroke-width="5.9" fill="none" stroke-linejoin="round"/><path d="M196.2 1014.0 L196.8 1008.8 L197.3 1004.1 L197.9 999.7 L198.5 995.6 L199.1 991.7 L199.6 988.0 L200.2 984.5 L200.8 981.1 L201.4 977.8 L201.9 974.7 L202.5 971.7 L203.1 968.8 L203.6 966.0 L204.2 963.2 L204.8 960.6 L205.4 958.0 L205.9 955.6 L206.5 953.1 L207.1 950.8 L207.7 948.5 L208.2 946.3 L208.8 944.1 L209.4 942.0 L209.9 939.9 L210.5 937.9 L211.1 935.9 L211.7 934.0 L212.2 932.1 L212.8 930.2 L213.4 928.4 L214.0 926.6 L214.5 924.9 L215.1 923.2 L215.7 921.5 L216.3 919.9 L216.8 918.2 L217.4 916.6 L218.0 915.1 L218.5 913.6 L219.1 912.0 L219.7 910.6 L220.3 909.1 L220.8 907.7 L221.4 906.3 L222.0 904.9 L222.6 903.5 L223.1 902.1 L223.7 900.8 L224.3 899.5 L224.8 898.2 L225.4 896.9 L226.0 895.7 L226.6 894.4 L227.1 893.2 L227.7 892.0 L228.3 890.8 L228.9 889.7 L229.4 888.5 L230.0 887.4 L231.0 885.4 L235.9 876.4 L240.8 868.2 L245.6 860.7 L250.5 853.8 L255.4 847.4 L260.3 841.4 L265.2 835.7 L270.0 830.4 L274.9 825.4 L279.8 820.7 L284.7 816.2 L289.6 811.9 L294.4 807.8 L299.3 803.9 L304.2 800.2 L309.1 796.6 L314.0 793.1 L318.8 789.8 L323.7 786.6 L328.6 783.5 L333.5 780.5 L338.4 777.7 L343.2 774.9 L348.1 772.2 L353.0 769.5 L357.9 767.0 L362.7 764.5 L367.6 762.1 L372.5 759.7 L377.4 757.5 L382.3 755.2 L387.1 753.1 L392.0 750.9 L396.9 748.9 L401.8 746.9 L406.7 744.9 L411.5 743.0 L416.4 741.1 L421.3 739.2 L426.2 737.4 L431.1 735.7 L435.9 733.9 L440.8 732.2 L445.7 730.6 L450.6 728.9 L455.5 727.3 L460.3 725.8 L465.2 724.2 L470.1 722.7 L475.0 721.2 L479.9 719.8 L484.7 718.3 L489.6 716.9 L494.5 715.5 L499.4 714.2 L504.3 712.8 L509.1 711.5 L514.0 710.2 L518.9 708.9 L523.8 707.7 L528.7 706.4 L533.5 705.2 L538.4 704.0 L543.3 702.8 L548.2 701.6 L553.1 700.5 L557.9 699.3 L562.8 698.2 L567.7 697.1 L572.6 696.0 L577.5 694.9 L582.3 693.9 L587.2 692.8 L592.1 691.8 L597.0 690.8 L601.8 689.7 L606.7 688.7 L611.6 687.8 L616.5 686.8 L621.4 685.8 L626.2 684.9 L631.1 683.9 L636.0 683.0 L640.9 682.1 L645.8 681.2 L650.6 680.3 L655.5 679.4 L660.4 678.5 L665.3 677.7 L670.2 676.8 L675.0 676.0 L679.9 675.1 L684.8 674.3 L689.7 673.5 L694.6 672.7 L699.4 671.9 L704.3 671.1 L709.2 670.3 L714.1 669.5 L719.0 668.7 L723.8 668.0 L728.7 667.2 L733.6 666.5 L738.5 665.7 L743.4 665.0 L748.2 664.3 L753.1 663.6 L758.0 662.8 L762.9 662.1 L767.8 661.4 L772.6 660.7 L777.5 660.1 L782.4 659.4 L787.3 658.7 L792.2 658.0 L797.0 657.4 L801.9 656.7 L806.8 656.1 L811.7 655.4 L816.6 654.8 L821.4 654.2 L826.3 653.5 L831.2 652.9 L836.1 652.3 L840.9 651.7 L845.8 651.1 L850.7 650.5 L855.6 649.9 L860.5 649.3 L865.3 648.7 L870.2 648.1 L875.1 647.5 L880.0 647.0 L884.9 646.4 L889.7 645.8 L894.6 645.3 L899.5 644.7 L904.4 644.2 L909.3 643.6 L914.1 643.1 L919.0 642.5 L923.9 642.0 L928.8 641.5 L933.7 641.0 L938.5 640.4 L943.4 639.9 L948.3 639.4 L953.2 638.9 L958.1 638.4 L962.9 637.9 L967.8 637.4 L972.7 636.9 L977.6 636.4 L982.5 635.9 L987.3 635.4 L992.2 634.9 L997.1 634.5 L1002.0 634.0 L1006.9 633.5 L1011.7 633.0 L1016.6 632.6 L1021.5 632.1 L1026.4 631.7 L1031.3 631.2 L1036.1 630.7 L1041.0 630.3 L1045.9 629.9 L1050.8 629.4 L1055.7 629.0 L1060.5 628.5 L1065.4 628.1 L1070.3 627.7 L1075.2 627.2 L1080.1 626.8 L1084.9 626.4 L1089.8 626.0 L1094.7 625.5 L1099.6 625.1 L1104.4 624.7 L1109.3 624.3 L1114.2 623.9 L1119.1 623.5 L1124.0 623.1 L1128.8 622.7 L1133.7 622.3 L1138.6 621.9 L1143.5 621.5 L1148.4 621.1 L1153.2 620.7 L1158.1 620.3 L1163.0 620.0 L1167.9 619.6 L1172.8 619.2 L1177.6 618.8 L1182.5 618.5 L1187.4 618.1 L1192.3 617.7 L1197.2 617.3 L1202.0 617.0 L1206.9 616.6 L1211.8 616.3 L1216.7 615.9 L1221.6 615.5 L1226.4 615.2 L1231.3 614.8 L1236.2 614.5 L1241.1 614.1 L1246.0 613.8 L1250.8 613.4 L1255.7 613.1 L1260.6 612.8 L1265.5 612.4 L1270.4 612.1 L1275.2 611.7 L1280.1 611.4 L1285.0 611.1 L1289.9 610.8 L1294.8 610.4 L1299.6 610.1 L1304.5 609.8 L1309.4 609.5 L1314.3 609.1 L1319.2 608.8 L1324.0 608.5 L1328.9 608.2 L1333.8 607.9 L1338.7 607.6 L1343.5 607.2 L1348.4 606.9 L1353.3 606.6 L1358.2 606.3 L1363.1 606.0 L1367.9 605.7 L1372.8 605.4 L1377.7 605.1 L1382.6 604.8 L1387.5 604.5 L1392.3 604.2 L1397.2 603.9 L1402.1 603.6 L1407.0 603.4 L1411.9 603.1 L1416.7 602.8 L1421.6 602.5 L1426.5 602.2 L1431.4 601.9 L1436.3 601.6 L1441.1 601.4 L1446.0 601.1 L1450.9 600.8 L1455.8 600.5 L1460.7 600.3 L1465.5 600.0 L1470.4 599.7 L1475.3 599.4 L1480.2 599.2 L1485.1 598.9 L1489.9 598.6 L1494.8 598.4 L1499.7 598.1 L1504.6 597.8 L1509.5 597.6 L1514.3 597.3 L1519.2 597.1 L1524.1 596.8 L1529.0 596.6 L1533.9 596.3 L1538.7 596.0 L1543.6 595.8 L1548.5 595.5 L1553.4 595.3 L1558.3 595.0 L1563.1 594.8 L1568.0 594.5 L1572.9 594.3 L1577.8 594.1 L1582.6 593.8 L1587.5 593.6 L1592.4 593.3 L1597.3 593.1 L1602.2 592.9 L1607.0 592.6 L1611.9 592.4 L1616.8 592.1 L1621.7 591.9 L1626.6 591.7 L1631.4 591.4 L1636.3 591.2 L1641.2 591.0 L1646.1 590.8 L1651.0 590.5 L1655.8 590.3 L1660.7 590.1 L1665.6 589.8 L1670.5 589.6 L1675.4 589.4 L1680.2 589.2 L1685.1 589.0 L1690.0 588.7" stroke="#00f" stroke-width="5.9" fill="none" stroke-linejoin="round"/></g><rect x="349.4" y="92.3" width="272" height="271.2" fill="#e2caca"/><g clip-path="url(#ic)"><rect x="350.6" y="93.3" width="269" height="268.7" fill="#b17473"/><g filter="url(#blur4)"><path d="M520 320 L548 300 L600 362 L515 362Z" fill="#bb8888" opacity="0.7"/><path d="M541 310 L553 304 L588 362 L566 362Z" fill="#caa2a2"/></g><circle cx="486.8" cy="229.4" r="50" fill="url(#spot)"/><circle cx="488" cy="133.8" r="10.8" fill="#f8f8f8" stroke="#8a7a7a" stroke-width="2.2"/><circle cx="409" cy="297.5" r="10.8" fill="#f8f8f8" stroke="#8a7a7a" stroke-width="2.2"/><circle cx="562.4" cy="297.5" r="10.8" fill="#f8f8f8" stroke="#8a7a7a" stroke-width="2.2"/><path d="M488.3 143.5 V234.5" stroke="#000" stroke-width="5.5" stroke-dasharray="11.5 8.2"/><path d="M556.6 127 C566 129 570 136 570 150 L570 168 C570 176 573 180 579.5 180.7 C573 181.5 570 186 570 194 L570 213 C570 226 566 232 556.6 234.5" stroke="#111" stroke-width="2.2" fill="none"/></g><line x1="598.6" y1="179.9" x2="751.1" y2="222.2" stroke="#00f" stroke-width="4.6"/><line x1="475.4" y1="286" x2="379.5" y2="421.4" stroke="#00f" stroke-width="4.6"/><line x1="580.7" y1="307.8" x2="731.8" y2="408.8" stroke="#00f" stroke-width="4.6"/><ellipse cx="1169.4" cy="524.3" rx="42.5" ry="151.1" transform="rotate(15 1169.4 524.3)" fill="none" stroke="#000" stroke-width="5" stroke-dasharray="8.6 11.3" stroke-dashoffset="19.8"/><ellipse cx="1298.5" cy="765.4" rx="41.9" ry="101.5" transform="rotate(15 1298.5 765.4)" fill="none" stroke="#000" stroke-width="5" stroke-dasharray="8.6 11.2" stroke-dashoffset="19.3"/><ellipse cx="1448.3" cy="896.7" rx="30" ry="71.9" transform="rotate(15 1448.3 896.7)" fill="none" stroke="#000" stroke-width="5" stroke-dasharray="8.6 11.4" stroke-dashoffset="5.6"/><rect x="196.5" y="38.5" width="1489.5" height="1102.5" fill="none" stroke="#000" stroke-width="7.5"/><text class="t" x="172.5" y="1158.0" font-size="68" text-anchor="end">16</text><text class="t" x="172.5" y="1066.1" font-size="68" text-anchor="end">18</text><text class="t" x="172.5" y="974.2" font-size="68" text-anchor="end">20</text><text class="t" x="172.5" y="882.4" font-size="68" text-anchor="end">22</text><text class="t" x="172.5" y="790.5" font-size="68" text-anchor="end">24</text><text class="t" x="172.5" y="698.6" font-size="68" text-anchor="end">26</text><text class="t" x="172.5" y="606.8" font-size="68" text-anchor="end">28</text><text class="t" x="172.5" y="514.9" font-size="68" text-anchor="end">30</text><text class="t" x="172.5" y="423.0" font-size="68" text-anchor="end">32</text><text class="t" x="172.5" y="331.1" font-size="68" text-anchor="end">34</text><text class="t" x="172.5" y="239.2" font-size="68" text-anchor="end">36</text><text class="t" x="172.5" y="147.4" font-size="68" text-anchor="end">38</text><text class="t" x="172.5" y="55.5" font-size="68" text-anchor="end">40</text><text class="t" x="196.5" y="1215.5" font-size="68" text-anchor="middle">0</text><text class="t" x="362.0" y="1215.5" font-size="68" text-anchor="middle">20</text><text class="t" x="527.5" y="1215.5" font-size="68" text-anchor="middle">40</text><text class="t" x="693.0" y="1215.5" font-size="68" text-anchor="middle">60</text><text class="t" x="858.5" y="1215.5" font-size="68" text-anchor="middle">80</text><text class="t" x="1024.0" y="1215.5" font-size="68" text-anchor="middle">100</text><text class="t" x="1189.5" y="1215.5" font-size="68" text-anchor="middle">120</text><text class="t" x="1355.0" y="1215.5" font-size="68" text-anchor="middle">140</text><text class="t" x="1520.5" y="1215.5" font-size="68" text-anchor="middle">160</text><text class="t" x="1686.0" y="1215.5" font-size="68" text-anchor="middle">180</text><text class="t" x="944" y="1293.5" font-size="68" text-anchor="middle">Time / s</text><text class="t" transform="translate(70.5 827) rotate(-90)" x="0" y="0" font-size="67">Temperature / <tspan x="392" dy="2.5" font-size="67" style="font-family:'Liberation Serif','WenQuanYi Zen Hei',sans-serif" stroke="#fff" stroke-width="2.4">℃</tspan></text><text class="t" x="766" y="249" font-size="67">2 mm</text><text class="t" x="880.7" y="365" font-size="67" text-anchor="middle">Measurement</text><text class="t" x="880.7" y="444.6" font-size="67" text-anchor="middle">point</text><text class="t" x="239" y="477.3" font-size="67">Laser spot</text><text class="t" x="1158" y="318.6" font-size="67"><tspan font-style="italic">Q</tspan> = 200 mW</text><text class="t" x="1240" y="666.4" font-size="67"><tspan font-style="italic">Q</tspan> = 175 mW</text><text class="t" x="1196" y="1037.3" font-size="67"><tspan font-style="italic">Q</tspan> = 150 mW</text></svg></body></html>
